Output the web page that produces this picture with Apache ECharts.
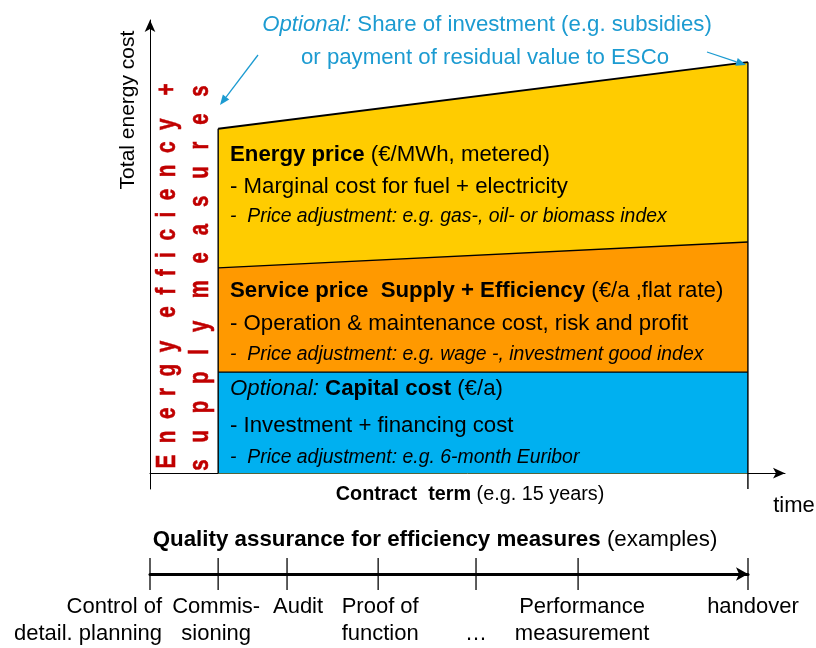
<!DOCTYPE html>
<html><head><meta charset="utf-8">
<script src="https://cdn.jsdelivr.net/npm/echarts@6/dist/echarts.min.js"></script>
<style>html,body{margin:0;padding:0;background:#fff}#c{width:816px;height:648px}</style>
</head><body><div id="c"></div>
<script>
// ---- data ----
const years = [0, 15];                 // contract term (years)
const capitalCost = [22.3, 22.3];      // blue band
const servicePrice = [23.0, 28.7];     // orange band
const energyPrice = [30.7, 39.7];      // yellow band
const milestoneYears = [-1.93, 0, 1.95, 4.53, 7.3, 10.19, 15];
const milestoneLabels = ['Control of\ndetail. planning', 'Commis-\nsioning', 'Audit', 'Proof of\nfunction', '\n\u2026', 'Performance\nmeasurement', 'handover'];

// ---- derived ----
const blueTop = capitalCost.slice();
const orangeTop = blueTop.map((v, i) => v + servicePrice[i]);
const yellowTop = orangeTop.map((v, i) => v + energyPrice[i]);

const FF = '"Liberation Sans", Arial, sans-serif';
const yMin = -3.5;
const xMin = -1.93, xMax = 16.05;

function band(top, color, z, w) {
  return {
    type: 'line', xAxisIndex: 0, yAxisIndex: 0, symbol: 'none', z: z,
    data: years.map((x, i) => [x, top[i]]),
    lineStyle: { color: '#000', width: w },
    areaStyle: { color: color, opacity: 1 },
    silent: true, animation: false
  };
}
function edge(pts) {
  return { type: 'line', xAxisIndex: 0, yAxisIndex: 0, symbol: 'none', z: 10, data: pts,
    lineStyle: { color: '#000', width: 1.4 }, silent: true, animation: false };
}

const chart = echarts.init(document.getElementById('c'), null, { renderer: 'canvas' });
chart.setOption({
  animation: false,
  grid: [
    { left: 150, top: 20, width: 635, height: 469 },
    { left: 150, top: 554, width: 598, height: 40 }
  ],
  xAxis: [
    { type: 'value', gridIndex: 0, min: xMin, max: xMax,
      axisLine: { onZero: true, symbol: ['none', 'arrow'], symbolSize: [8, 12], lineStyle: { color: '#000', width: 1 } },
      axisTick: { show: false }, axisLabel: { show: false }, splitLine: { show: false } },
    { type: 'value', gridIndex: 1, min: xMin, max: 15,
      axisLine: { onZero: true, symbol: ['none', 'arrow'], symbolSize: [10, 12], lineStyle: { color: '#000', width: 3 } },
      axisTick: { show: false }, axisLabel: { show: false }, splitLine: { show: false } }
  ],
  yAxis: [
    { type: 'value', gridIndex: 0, min: yMin, max: 100,
      axisLine: { show: true, onZero: false, symbol: ['none', 'arrow'], symbolSize: [8, 12], lineStyle: { color: '#000', width: 1 } },
      axisTick: { show: false }, axisLabel: { show: false }, splitLine: { show: false } },
    { type: 'value', gridIndex: 1, min: -1, max: 1, show: false }
  ],
  series: [
    band(yellowTop, '#FFCC00', 2, 1.8),
    band(orangeTop, '#FF9900', 3, 1.4),
    band(blueTop, '#00B0F0', 4, 1.4),
    edge([[years[0], 0], [years[0], yellowTop[0]]]),
    edge([[years[1], yMin], [years[1], yellowTop[1]]]),
    { type: 'scatter', xAxisIndex: 1, yAxisIndex: 1, symbol: 'rect', symbolSize: [1.6, 32],
      itemStyle: { color: '#000' }, data: milestoneYears.map(x => [x, 0]), silent: true, animation: false, z: 5 }
  ]
});

// ---- text annotations ----
function T(x, y, text, o) {
  o = o || {};
  const fs = o.size || 22;
  const col = o.color || '#000';
  const st = {
    text: text, fill: col, fontSize: fs, fontFamily: o.ff || FF, fontWeight: o.weight || 'normal',
    fontStyle: o.style || 'normal',
    align: o.align || 'left', verticalAlign: o.va || 'middle', lineHeight: o.lh,
    rich: {
      b: { fontSize: fs, fontFamily: o.ff || FF, fontWeight: 'bold', fill: col },
      i: { fontSize: fs, fontFamily: o.ff || FF, fontStyle: 'italic', fill: col },
      n: { fontSize: fs, fontFamily: o.ff || FF, fill: col }
    }
  };
  if (o.stroke) { st.stroke = col; st.lineWidth = o.stroke; }
  return { type: 'text', x: x, y: y, rotation: o.rot || 0, scaleX: o.sx || 1, z: 100, style: st };
}
function arrow(x1, y1, x2, y2, color) {
  const a = Math.atan2(y2 - y1, x2 - x1), L = 10, W = 4;
  const bx = x2 - L * Math.cos(a), by = y2 - L * Math.sin(a);
  return [
    { type: 'line', z: 100, shape: { x1: x1, y1: y1, x2: bx, y2: by }, style: { stroke: color, lineWidth: 1.3 } },
    { type: 'polygon', z: 100, shape: { points: [[x2, y2], [bx + W * Math.sin(a), by - W * Math.cos(a)], [bx - W * Math.sin(a), by + W * Math.cos(a)]] }, style: { fill: color } }
  ];
}
function spaced(words, gap, wordGap) {
  return words.map(w => w.split('').join(' '.repeat(gap))).join(' '.repeat(wordGap));
}

const ANN = '#1C9BD1';
const RED = '#C00000';
const g = [];
g.push(T(487, 25, '{i|Optional:} Share of investment (e.g. subsidies)', { color: ANN, align: 'center', sx: 1.01 }));
g.push(T(485, 58, 'or payment of residual value to ESCo', { color: ANN, align: 'center', sx: 1.01 }));
g.push(...arrow(258, 55, 220, 105, ANN));
g.push(...arrow(707, 52, 746, 65, ANN));
g.push(T(128, 110, 'Total energy cost', { rot: Math.PI / 2, align: 'center', size: 21, sx: 1.0 }));
g.push(T(167.5, 276, spaced(['Energy', 'efficiency', '+'], 2, 4), { rot: Math.PI / 2, align: 'center', weight: 'bold', color: RED, size: 28, sx: 0.74, stroke: 0.6 }));
g.push(T(200.5, 278, spaced(['supply', 'measures'], 3, 4), { rot: Math.PI / 2, align: 'center', weight: 'bold', color: RED, size: 28, sx: 0.724, stroke: 0.6 }));

g.push(T(230, 155, '{b|Energy price} (\u20ac/MWh, metered)', { sx: 1.01 }));
g.push(T(230, 187, '- Marginal cost for fuel + electricity', { sx: 1.01 }));
g.push(T(230, 216, '-  Price adjustment: e.g. gas-, oil- or biomass index', { style: 'italic', size: 20, sx: 0.97 }));
g.push(T(230, 291, '{b|Service price  Supply + Efficiency} (\u20ac/a ,flat rate)', { sx: 1.01 }));
g.push(T(230, 324, '- Operation & maintenance cost, risk and profit', { sx: 1.01 }));
g.push(T(230, 354, '-  Price adjustment: e.g. wage -, investment good index', { style: 'italic', size: 20, sx: 0.97 }));
g.push(T(230, 389, '{i|Optional:} {b|Capital cost} (\u20ac/a)', { sx: 1.01 }));
g.push(T(230, 426, '- Investment + financing cost', { sx: 1.01 }));
g.push(T(230, 457, '-  Price adjustment: e.g. 6-month Euribor', { style: 'italic', size: 20, sx: 0.97 }));

g.push(T(470, 494, '{b|Contract  term} (e.g. 15 years)', { align: 'center', size: 20, sx: 0.99 }));
g.push(T(794, 506, 'time', { align: 'center', size: 22, sx: 1.0 }));
g.push(T(435, 540, '{b|Quality assurance for efficiency measures} (examples)', { align: 'center', size: 22, sx: 1.015 }));

const labelDx = [12, -2, 11, 2, 0, 4, 5];
milestoneLabels.forEach((lab, i) => {
  const px = chart.convertToPixel({ xAxisIndex: 1 }, milestoneYears[i]) + labelDx[i];
  g.push(T(px, 593, lab, { align: i === 0 ? 'right' : 'center', va: 'top', lh: 27, size: 22, sx: 1.0 }));
});

chart.setOption({ graphic: g });
</script></body></html>
